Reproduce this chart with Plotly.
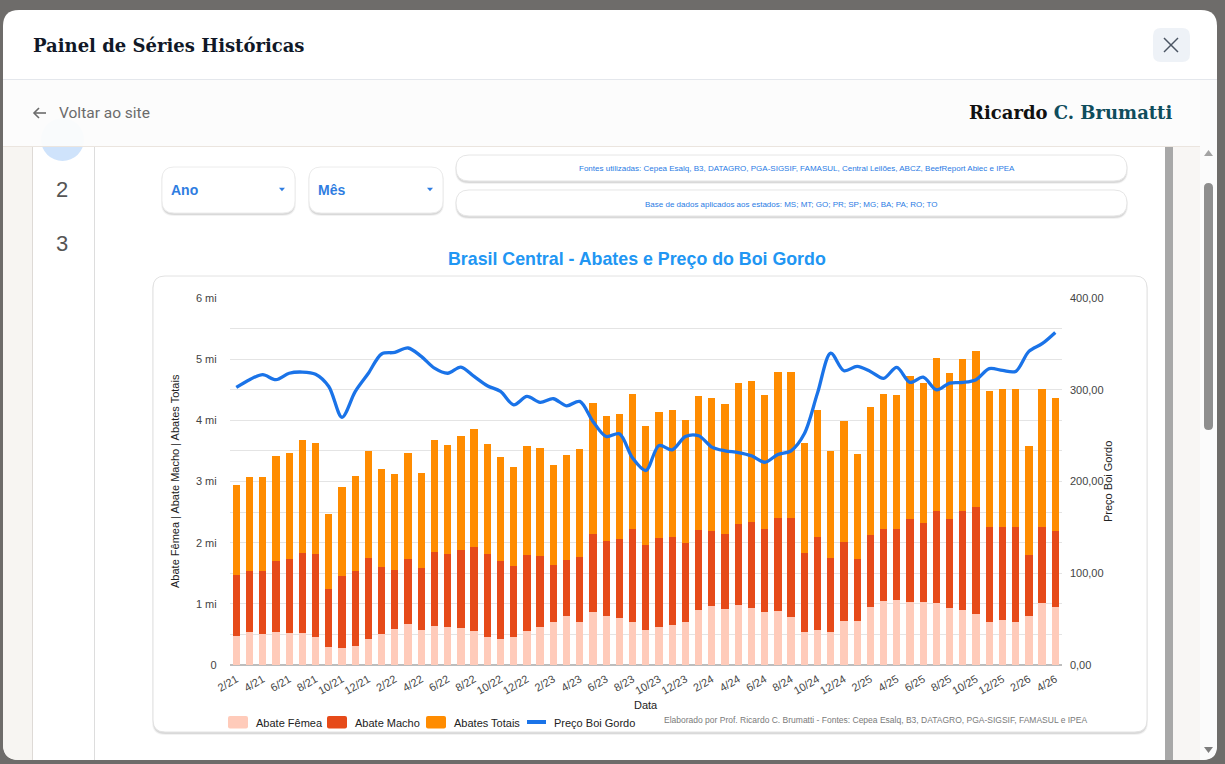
import plotly.graph_objects as go

W, H = 1225, 764

# ---------------- data ----------------
datas = [
    "2/21", "3/21", "4/21", "5/21", "6/21", "7/21", "8/21", "9/21", "10/21", "11/21", "12/21",
    "1/22", "2/22", "3/22", "4/22", "5/22", "6/22", "7/22", "8/22", "9/22", "10/22", "11/22", "12/22",
    "1/23", "2/23", "3/23", "4/23", "5/23", "6/23", "7/23", "8/23", "9/23", "10/23", "11/23", "12/23",
    "1/24", "2/24", "3/24", "4/24", "5/24", "6/24", "7/24", "8/24", "9/24", "10/24", "11/24", "12/24",
    "1/25", "2/25", "3/25", "4/25", "5/25", "6/25", "7/25", "8/25", "9/25", "10/25", "11/25", "12/25",
    "1/26", "2/26", "3/26", "4/26",
]

# milhões de cabeças
abate_femea = [
    0.475, 0.535, 0.507, 0.546, 0.518, 0.529, 0.453, 0.300, 0.278, 0.305, 0.431,
    0.513, 0.584, 0.666, 0.567, 0.644, 0.616, 0.600, 0.562, 0.458, 0.426, 0.453,
    0.562, 0.627, 0.704, 0.807, 0.698, 0.862, 0.797, 0.764, 0.709, 0.573, 0.622,
    0.649, 0.704, 0.900, 0.966, 0.911, 0.977, 0.927, 0.862, 0.884, 0.786, 0.540,
    0.573, 0.535, 0.715, 0.715, 0.949, 1.047, 1.058, 1.031, 1.026, 1.020, 0.927,
    0.895, 0.829, 0.698, 0.742, 0.704, 0.802, 1.009, 0.944,
]
abate_macho = [
    1.003, 1.009, 1.037, 1.162, 1.222, 1.309, 1.364, 0.938, 1.184, 1.239, 1.326,
    1.096, 0.971, 1.074, 1.015, 1.200, 1.195, 1.277, 1.375, 1.359, 1.276, 1.173,
    1.233, 1.157, 0.938, 0.917, 1.075, 1.287, 1.238, 1.293, 1.511, 1.391, 1.457,
    1.441, 1.298, 1.310, 1.227, 1.228, 1.336, 1.403, 1.358, 1.522, 1.614, 1.288,
    1.522, 1.222, 1.293, 1.014, 1.173, 1.179, 1.168, 1.348, 1.293, 1.500, 1.468,
    1.620, 1.751, 1.555, 1.522, 1.555, 0.993, 1.255, 1.244,
]
abates_totais = [
    1.457, 1.533, 1.533, 1.702, 1.719, 1.834, 1.816, 1.233, 1.446, 1.544, 1.735,
    1.593, 1.560, 1.724, 1.555, 1.833, 1.784, 1.866, 1.920, 1.800, 1.691, 1.615,
    1.784, 1.762, 1.631, 1.708, 1.751, 2.134, 2.029, 2.040, 2.204, 1.948, 2.062,
    2.073, 1.997, 2.193, 2.177, 2.127, 2.302, 2.318, 2.199, 2.389, 2.385, 1.800,
    2.079, 1.735, 1.986, 1.719, 2.095, 2.198, 2.188, 2.346, 2.291, 2.499, 2.373,
    2.482, 2.554, 2.231, 2.242, 2.247, 1.784, 2.253, 2.182,
]
preco_boi = [
    302.5, 311.0, 316.4, 311.0, 318.0, 319.3, 317.0, 303.6, 270.0, 298.0, 318.0,
    339.0, 340.7, 345.5, 336.4, 323.6, 318.0, 324.7, 314.5, 304.4, 298.2, 283.6,
    292.7, 286.2, 290.2, 282.5, 287.3, 265.5, 249.0, 252.0, 225.5, 212.0, 239.3,
    234.5, 249.0, 249.8, 237.5, 233.5, 231.6, 228.0, 221.0, 229.5, 233.5, 252.0,
    296.4, 340.0, 320.7, 325.5, 320.0, 312.4, 324.4, 308.0, 313.8, 300.0, 307.3,
    308.0, 311.0, 323.0, 321.0, 320.0, 341.8, 350.2, 362.5,
]

series_names = ["Abate Fêmea", "Abate Macho", "Abates Totais", "Preço Boi Gordo"]
left_ticks = [0, 0.5, 1, 1.5, 2, 2.5, 3, 3.5, 4, 4.5, 5, 5.5, 6]
left_ticktext = ["0", "", "1 mi", "", "2 mi", "", "3 mi", "", "4 mi", "", "5 mi", "", "6 mi"]
right_ticks = [0, 100, 200, 300, 400]
right_ticktext = ["0,00", "100,00", "200,00", "300,00", "400,00"]

C_FEM = "#FFCBBA"
C_MAC = "#E64A19"
C_TOT = "#FF8C00"
C_LINE = "#1A73E8"
FONT = "Liberation Sans, Arial, sans-serif"
SERIF = "DejaVu Serif, Georgia, serif"


def fx(x):
    return x / W


def fy(y):
    return 1 - y / H


def rpath(x0, y0, x1, y1, tl=0, tr=0, br=0, bl=0):
    def p(x, y):
        return f"{fx(x):.5f},{fy(y):.5f}"
    s = f"M {p(x0 + tl, y0)} L {p(x1 - tr, y0)} "
    if tr:
        s += f"Q {p(x1, y0)} {p(x1, y0 + tr)} "
    s += f"L {p(x1, y1 - br)} "
    if br:
        s += f"Q {p(x1, y1)} {p(x1 - br, y1)} "
    s += f"L {p(x0 + bl, y1)} "
    if bl:
        s += f"Q {p(x0, y1)} {p(x0, y1 - bl)} "
    s += f"L {p(x0, y0 + tl)} "
    if tl:
        s += f"Q {p(x0, y0)} {p(x0 + tl, y0)} "
    return s + "Z"


shapes = []


def add_path(path, fill, line_color=None, line_width=0):
    shapes.append(dict(type="path", xref="paper", yref="paper", path=path,
                       fillcolor=fill, line=dict(color=line_color or "rgba(0,0,0,0)", width=line_width),
                       layer="below"))


def rbox(x0, y0, x1, y1, r, fill, line_color=None, line_width=0):
    add_path(rpath(x0, y0, x1, y1, r, r, r, r), fill, line_color, line_width)


def shadow(x0, y0, x1, y1, r):
    rbox(x0 - 1, y0 + 1, x1 + 1, y1 + 3, r + 1, "rgba(0,0,0,0.05)")
    rbox(x0, y0 + 1, x1, y1 + 2, r, "rgba(0,0,0,0.10)")


def hline(x0, x1, y, color, w=1):
    shapes.append(dict(type="line", xref="paper", yref="paper", x0=fx(x0), x1=fx(x1), y0=fy(y), y1=fy(y),
                       line=dict(color=color, width=w), layer="below"))


def vline(x, y0, y1, color, w=1):
    shapes.append(dict(type="line", xref="paper", yref="paper", x0=fx(x), x1=fx(x), y0=fy(y0), y1=fy(y1),
                       line=dict(color=color, width=w), layer="below"))


def tri(cx, cy, w, h, color, up=False):
    if up:
        pts = [(cx - w / 2, cy + h / 2), (cx + w / 2, cy + h / 2), (cx, cy - h / 2)]
    else:
        pts = [(cx - w / 2, cy - h / 2), (cx + w / 2, cy - h / 2), (cx, cy + h / 2)]
    path = "M " + " L ".join(f"{fx(a):.5f},{fy(b):.5f}" for a, b in pts) + " Z"
    add_path(path, color)


# modal
rbox(3, 10, 1217, 760, 16, "#ffffff")
hline(3, 1217, 79.5, "#e4e7ec")
add_path(rpath(3, 80, 32, 760, 0, 0, 0, 16), "#f7f5f2")
vline(32.5, 146, 760, "#dedad6")
vline(94.5, 146, 760, "#dddddd")
shapes.append(dict(type="circle", xref="paper", yref="paper", x0=fx(41), x1=fx(84), y0=fy(161), y1=fy(118),
                   fillcolor="#cfe3fb", line=dict(width=0), layer="below"))
shapes.append(dict(type="rect", xref="paper", yref="paper", x0=fx(3), x1=fx(1217), y0=fy(146), y1=fy(80),
                   fillcolor="rgba(252,252,252,0.94)", line=dict(width=0), layer="below"))
hline(3, 1200, 146.5, "#ebe5df")
shapes.append(dict(type="rect", xref="paper", yref="paper", x0=fx(1173), x1=fx(1200), y0=fy(760), y1=fy(147),
                   fillcolor="#f8f6f4", line=dict(width=0), layer="below"))
shapes.append(dict(type="rect", xref="paper", yref="paper", x0=fx(1165), x1=fx(1173), y0=fy(760), y1=fy(147),
                   fillcolor="#a8a8a8", line=dict(width=0), layer="below"))
add_path(rpath(1200, 80, 1217, 760, 0, 0, 14, 0), "#fbfbfb")
rbox(1204, 183, 1213, 430, 4.5, "#8e8e8e")
tri(1208.5, 153, 9, 6, "#a3a3a3", up=True)
tri(1208.5, 750, 9, 6, "#7d7d7d")
# close button
rbox(1153, 28, 1190, 62, 8, "#eef2f7")
shapes.append(dict(type="line", xref="paper", yref="paper", x0=fx(1164), x1=fx(1178), y0=fy(38), y1=fy(52),
                   line=dict(color="#4b5563", width=1.5), layer="below"))
shapes.append(dict(type="line", xref="paper", yref="paper", x0=fx(1164), x1=fx(1178), y0=fy(52), y1=fy(38),
                   line=dict(color="#4b5563", width=1.5), layer="below"))
# back arrow
shapes.append(dict(type="line", xref="paper", yref="paper", x0=fx(34), x1=fx(46), y0=fy(113), y1=fy(113),
                   line=dict(color="#6b6b6b", width=1.6), layer="below"))
shapes.append(dict(type="path", xref="paper", yref="paper",
                   path=f"M {fx(39):.5f},{fy(108):.5f} L {fx(34):.5f},{fy(113):.5f} L {fx(39):.5f},{fy(118):.5f}",
                   line=dict(color="#6b6b6b", width=1.6), layer="below"))
# dropdowns
for x0, x1 in [(162, 295), (309, 443)]:
    shadow(x0, 167, x1, 213, 12)
    rbox(x0, 167, x1, 213, 12, "#ffffff", "#ececec", 1)
    tri(x1 - 13, 189.5, 6, 3.5, "#2f7de1")
# info pills
for y0, y1 in [(155, 181), (190, 216)]:
    shadow(456, y0, 1127, y1, 13)
    rbox(456, y0, 1127, y1, 13, "#ffffff", "#e6e6e6", 1)
# chart card
shadow(153, 276, 1147, 732, 12)
rbox(153, 276, 1147, 732, 12, "#ffffff", "#e2e2e2", 1)

# legend swatches (custom legend, Google-Charts style)
leg_x = [228, 327, 426, 526]
for i, c in enumerate([C_FEM, C_MAC, C_TOT]):
    rbox(leg_x[i], 716, leg_x[i] + 20, 728.5, 2, c)
shapes.append(dict(type="line", xref="paper", yref="paper", x0=fx(leg_x[3] + 1), x1=fx(leg_x[3] + 20),
                   y0=fy(722), y1=fy(722), line=dict(color=C_LINE, width=4), layer="below"))


def ann(text, x, y, size, color, family=FONT, xanchor="center", yanchor="middle", angle=0):
    return dict(text=text, x=fx(x), y=fy(y), xref="paper", yref="paper", showarrow=False,
                xanchor=xanchor, yanchor=yanchor, textangle=angle,
                font=dict(size=size, color=color, family=family))


annotations = [
    ann("<b>Painel de Séries Históricas</b>", 31, 45, 18, "#111827", SERIF, xanchor="left"),
    ann("Voltar ao site", 57, 113, 15.5, "#6b6b6b", "Roboto, " + FONT, xanchor="left"),
    ann("<b>Ricardo <span style='color:#0f4d5c'>C. Brumatti</span></b>", 1174, 113, 18, "#111111",
        SERIF, xanchor="right"),
    ann("2", 62, 190, 22, "#555555"),
    ann("3", 62, 243, 22, "#555555"),
    ann("<b>Ano</b>", 169, 190, 14, "#2f7de1", "Liberation Sans Narrow, Arial Narrow, " + FONT, xanchor="left"),
    ann("<b>Mês</b>", 316, 190, 14, "#2f7de1", "Liberation Sans Narrow, Arial Narrow, " + FONT, xanchor="left"),
    ann("Fontes utilizadas: Cepea Esalq, B3, DATAGRO, PGA-SIGSIF, FAMASUL, Central Leilões, ABCZ, BeefReport Abiec e IPEA",
        797, 169, 8, "#2a7be4"),
    ann("Base de dados aplicados aos estados: MS; MT; GO; PR; SP; MG; BA; PA; RO; TO", 791, 204.5, 8, "#2a7be4"),
    ann("<b>Brasil Central - Abates e Preço do Boi Gordo</b>", 637, 259, 17.8, "#2196F3"),
    ann("Abate Fêmea | Abate Macho | Abates Totais", 175, 481, 11, "#222222", angle=-90),
    ann("Preço Boi Gordo", 1108, 482, 11, "#222222", angle=-90),
    ann("Data", 646, 705, 11, "#222222"),
    ann("Elaborado por Prof. Ricardo C. Brumatti - Fontes: Cepea Esalq, B3, DATAGRO, PGA-SIGSIF, FAMASUL e IPEA",
        1089, 720, 8.5, "#7a7a7a", xanchor="right"),
]
for i, nm in enumerate(series_names):
    annotations.append(ann(nm, leg_x[i] + 26, 722.5, 11, "#222222", xanchor="left"))

fig = go.Figure()
fig.add_trace(go.Bar(x=datas, y=abate_femea, name=series_names[0], marker=dict(color=C_FEM, line=dict(width=0))))
fig.add_trace(go.Bar(x=datas, y=abate_macho, name=series_names[1], marker=dict(color=C_MAC, line=dict(width=0))))
fig.add_trace(go.Bar(x=datas, y=abates_totais, name=series_names[2], marker=dict(color=C_TOT, line=dict(width=0))))
fig.add_trace(go.Scatter(x=datas, y=preco_boi, name=series_names[3], yaxis="y2", mode="lines",
                         line=dict(color=C_LINE, width=3.3, shape="spline", smoothing=0.9)))

fig.update_layout(
    width=W, height=H,
    margin=dict(l=0, r=0, t=0, b=0, pad=0),
    paper_bgcolor="#6e6c6a",
    plot_bgcolor="rgba(0,0,0,0)",
    barmode="stack",
    bargap=0.45,
    font=dict(family=FONT, size=11, color="#444444"),
    shapes=shapes,
    annotations=annotations,
    showlegend=False,
    xaxis=dict(domain=[fx(229.7), fx(1061.9)], type="category", tickvals=datas[::2],
               tickangle=-30, tickfont=dict(size=11, color="#444444"), showgrid=False,
               showline=False, ticks="", ticklabelstandoff=5, automargin=False,
               range=[-0.5, len(datas) - 0.5]),
    yaxis=dict(domain=[fy(665), fy(298)], range=[0, 6], tickvals=left_ticks, ticktext=left_ticktext,
               showgrid=True, gridcolor="#e4e4e4", gridwidth=1, zeroline=True, zerolinecolor="#bdbdbd",
               zerolinewidth=1.5, tickfont=dict(size=11, color="#444444"), ticks="", ticklabelstandoff=12,
               automargin=False, fixedrange=True),
    yaxis2=dict(overlaying="y", side="right", range=[0, 400], tickvals=right_ticks, ticktext=right_ticktext,
                showgrid=False, zeroline=False, tickfont=dict(size=11, color="#444444"), ticks="",
                ticklabelstandoff=7, automargin=False, anchor="x"),
)

fig.write_html("out.html")
